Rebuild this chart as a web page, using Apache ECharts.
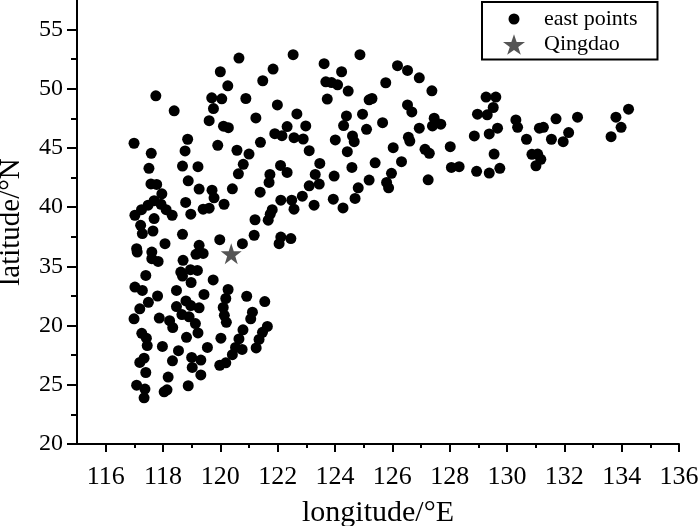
<!DOCTYPE html>
<html>
<head>
<meta charset="utf-8">
<script src="https://cdn.jsdelivr.net/npm/echarts@6/dist/echarts.min.js"></script>
<style>
  html, body { margin: 0; padding: 0; background: #fff; }
  #main { width: 700px; height: 526px; }
</style>
</head>
<body>
<div id="main"></div>
<script>
// 刻度
var xTicks = [116, 118, 120, 122, 124, 126, 128, 130, 132, 134, 136]
var xMinorTicks = [117, 119, 121, 123, 125, 127, 129, 131, 133, 135]
var yTicks = [20, 25, 30, 35, 40, 45, 50, 55]
// 原图第三个刻度就写成了 20
var yTickLabels = ['20', '25', '20', '35', '40', '45', '50', '55']
var yMinorTicks = [22.5, 27.5, 32.5, 37.5, 42.5, 47.5, 52.5]

// [经度, 纬度]
var eastPoints = [
  [120.65, 52.60], [120.00, 51.44], [121.84, 51.67], [120.26, 50.25], [121.48, 50.68],
  [117.75, 49.41], [119.70, 49.24], [120.05, 49.15], [120.89, 49.18], [121.99, 48.64],
  [118.39, 48.14], [119.76, 48.33], [119.61, 47.31], [121.24, 47.54], [120.11, 46.84],
  [120.28, 46.72], [122.33, 46.81], [121.90, 46.21], [122.15, 46.04], [116.99, 45.40],
  [118.86, 45.74], [119.91, 45.23], [121.40, 45.48], [117.59, 44.55], [118.77, 44.75],
  [120.58, 44.81], [121.00, 44.49], [117.51, 43.28], [118.68, 43.47], [119.22, 43.42],
  [120.80, 43.62], [122.10, 43.53], [120.63, 42.82], [122.33, 42.94], [121.73, 42.77],
  [117.58, 41.97], [117.78, 41.92], [118.88, 42.23], [121.70, 42.09], [117.96, 41.13],
  [119.26, 41.53], [119.71, 41.44], [120.42, 41.55], [121.39, 41.27],
  [117.02, 39.32], [117.25, 39.79], [117.48, 40.17], [117.69, 40.55], [117.93, 40.25],
  [118.11, 39.79], [118.32, 39.32], [117.69, 39.04], [118.79, 40.40], [118.97, 39.41],
  [119.78, 40.79], [119.40, 39.83], [119.61, 39.92], [120.13, 40.25], [121.21, 38.94],
  [121.81, 39.79], [121.74, 39.41], [121.67, 38.90], [122.11, 40.59],
  [122.49, 40.59], [122.86, 40.93], [122.57, 39.83], [123.27, 40.17], [123.94, 40.68],
  [124.28, 39.94], [124.70, 40.74], [122.46, 37.35], [122.11, 37.48], [122.05, 36.92],
  [122.54, 52.88], [124.87, 52.88], [123.62, 52.12], [124.23, 51.44], [126.18, 51.95],
  [126.53, 51.55], [126.94, 50.93], [123.68, 50.59], [123.88, 50.53], [124.09, 50.34],
  [125.77, 50.51], [124.46, 49.81], [127.38, 49.83], [123.73, 49.13], [125.19, 49.07],
  [125.29, 49.18], [126.53, 48.64], [126.68, 48.05], [122.67, 47.88], [124.40, 47.71],
  [124.96, 47.86], [125.66, 47.14], [127.46, 47.52], [127.40, 46.86], [127.69, 47.01],
  [122.98, 46.86], [124.30, 46.89], [125.10, 46.58], [126.94, 46.67], [128.97, 47.86],
  [122.57, 45.87], [122.89, 45.76], [124.01, 45.68], [124.61, 46.02], [124.67, 45.53],
  [126.56, 45.91], [126.61, 45.59], [128.86, 46.02], [123.10, 44.77], [124.43, 44.69],
  [126.03, 45.03], [127.14, 44.89], [127.29, 44.55], [128.02, 45.11], [123.47, 43.70],
  [125.40, 43.75], [126.32, 43.84], [123.31, 42.77], [124.59, 43.36], [125.97, 42.86],
  [128.06, 43.36], [128.33, 43.42], [128.94, 43.03], [123.97, 42.63], [125.19, 42.29],
  [125.80, 42.09], [125.87, 41.64], [127.25, 42.31], [123.10, 41.81], [123.45, 41.95],
  [124.81, 41.64],
  [129.27, 49.30], [129.61, 49.30], [129.52, 48.42], [129.31, 47.80], [129.67, 46.67],
  [129.38, 46.19], [129.55, 44.49], [129.75, 43.28], [129.38, 42.88], [130.31, 47.37],
  [130.37, 46.75], [130.68, 45.74], [131.13, 46.67], [131.27, 46.75], [131.71, 47.46],
  [132.46, 47.60], [131.55, 45.74], [132.15, 46.30], [131.96, 45.53], [130.87, 44.47],
  [131.07, 44.49], [131.18, 44.04], [131.01, 43.50], [133.80, 47.60], [134.24, 48.28],
  [133.98, 46.75], [133.63, 45.96],
  [117.22, 38.47], [117.28, 37.77], [117.65, 37.99], [118.68, 37.71], [118.07, 36.92],
  [117.08, 36.50], [117.10, 36.21], [117.61, 36.21], [117.61, 35.65], [117.83, 35.42],
  [119.26, 36.78], [119.15, 36.02], [119.40, 36.10], [119.98, 37.26], [120.77, 36.92],
  [121.18, 37.63], [118.70, 35.51], [118.62, 34.52], [118.68, 34.19], [118.96, 34.72],
  [119.20, 34.66], [118.98, 33.64], [117.40, 34.24], [119.75, 33.86], [117.02, 33.25],
  [117.28, 32.97], [117.81, 32.50], [118.47, 32.97], [119.43, 32.63], [120.27, 33.05],
  [120.19, 32.29], [120.10, 31.53], [120.14, 30.87], [120.21, 30.28], [120.92, 32.48],
  [121.55, 32.03], [118.80, 32.08], [118.97, 31.69], [119.26, 31.50], [118.47, 31.61],
  [117.49, 31.97], [117.19, 31.42], [116.99, 30.57], [117.87, 30.64], [118.23, 30.42],
  [118.34, 29.83], [118.66, 30.93], [118.91, 30.74], [119.13, 30.17], [119.22, 29.38],
  [121.12, 31.13], [121.06, 30.57], [120.79, 29.64], [120.65, 28.87], [121.64, 29.93],
  [121.47, 29.43], [121.35, 28.83], [121.25, 28.11], [120.02, 28.94], [118.82, 29.01],
  [117.26, 29.35], [117.42, 28.94], [117.45, 28.31], [117.98, 28.24], [118.54, 27.88],
  [119.55, 28.16], [120.53, 28.16], [120.76, 27.99], [120.42, 27.54], [117.34, 27.25],
  [117.19, 26.89], [118.33, 27.03], [119.00, 27.31], [119.32, 27.09], [119.02, 26.47],
  [120.19, 26.86], [119.98, 26.65], [117.40, 26.04], [119.32, 25.83], [118.18, 25.65],
  [117.08, 24.97], [117.37, 24.64], [118.04, 24.41], [118.14, 24.58], [118.88, 24.92],
  [117.34, 23.90]
]
var qingdao = [[120.38, 36.07]]

var fontName = 'Liberation Serif'
var starPath = 'path://M50,0 L61.8,35.1 L98.9,35.1 L68.9,56.7 L80.3,91.9 L50,70 L19.7,91.9 L31.1,56.7 L1.1,35.1 L38.2,35.1 Z'
// 图例里的圆点要比星星小，外面多加两个 moveTo 撑开包围盒
var dotIcon = 'path://M0,0 M22,22 M11,5.5 A5.5,5.5 0 1 1 11,16.5 A5.5,5.5 0 1 1 11,5.5 Z'

var myChart = echarts.init(document.getElementById('main'))

var option = {
  backgroundColor: '#fff',
  animation: false,
  // outerBoundsMode none: 不让 v6 自动把网格往里挤
  grid: { left: 77, right: 21, top: 0, bottom: 82, outerBoundsMode: 'none' },
  legend: {
    left: 482,
    top: 2,
    orient: 'vertical',
    padding: [6, 20, 4, 21],
    itemGap: 3.5,
    itemWidth: 22,
    itemHeight: 22,
    borderColor: '#000',
    borderWidth: 2,
    textStyle: { fontFamily: fontName, fontSize: 22, color: '#000', padding: [0, 0, 0, 14] },
    data: [
      { name: 'east points', icon: dotIcon },
      { name: 'Qingdao', icon: starPath }
    ]
  },
  xAxis: [{
    type: 'value',
    min: 115,
    max: 136,
    name: 'longitude/°E',
    nameLocation: 'middle',
    nameGap: 54,
    nameTextStyle: { fontFamily: fontName, fontSize: 30, color: '#000' },
    axisLine: { lineStyle: { color: '#000', width: 2 } },
    axisTick: { customValues: xTicks, length: 8, lineStyle: { color: '#000', width: 2 } },
    axisLabel: { customValues: xTicks, margin: 20, fontFamily: fontName, fontSize: 26, color: '#000' },
    splitLine: { show: false }
  }, {
    type: 'value',
    min: 115,
    max: 136,
    position: 'bottom',
    axisLine: { show: false },
    axisTick: { customValues: xMinorTicks, length: 4, lineStyle: { color: '#000', width: 2 } },
    axisLabel: { show: false },
    splitLine: { show: false }
  }],
  yAxis: [{
    type: 'value',
    min: 20,
    max: 57.5,
    name: 'latitude/°N',
    nameLocation: 'middle',
    nameGap: 51,
    nameTextStyle: { fontFamily: fontName, fontSize: 29, color: '#000' },
    axisLine: { lineStyle: { color: '#000', width: 2 } },
    axisTick: { customValues: yTicks, length: 10, lineStyle: { color: '#000', width: 2 } },
    axisLabel: {
      customValues: yTicks,
      margin: 14,
      fontFamily: fontName,
      fontSize: 24,
      color: '#000',
      formatter: function (v) {
        var i = yTicks.indexOf(v)
        return i >= 0 ? yTickLabels[i] : ''
      }
    },
    splitLine: { show: false }
  }, {
    type: 'value',
    min: 20,
    max: 57.5,
    position: 'left',
    axisLine: { show: false },
    axisTick: { customValues: yMinorTicks, length: 6, lineStyle: { color: '#000', width: 2 } },
    axisLabel: { show: false },
    splitLine: { show: false }
  }],
  series: [{
    name: 'east points',
    type: 'scatter',
    xAxisIndex: 0,
    yAxisIndex: 0,
    symbol: 'circle',
    symbolSize: 11,
    itemStyle: { color: '#000', opacity: 1 },
    data: eastPoints
  }, {
    name: 'Qingdao',
    type: 'scatter',
    xAxisIndex: 0,
    yAxisIndex: 0,
    symbol: starPath,
    symbolSize: 21,
    itemStyle: { color: '#555555', opacity: 1 },
    z: 3,
    data: qingdao
  }]
}

myChart.setOption(option)
</script>
</body>
</html>
